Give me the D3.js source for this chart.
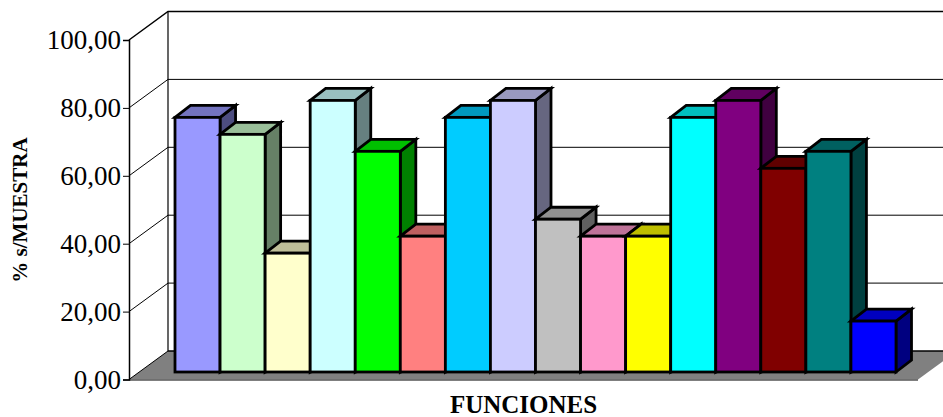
<!DOCTYPE html>
<html>
<head>
<meta charset="utf-8">
<script src="https://cdn.jsdelivr.net/npm/d3@7/dist/d3.min.js"></script>
<style>
html,body{margin:0;padding:0;background:#fff;overflow:hidden}
svg{display:block}
text{font-family:"Liberation Serif","Times New Roman",serif;fill:#000}
</style>
</head>
<body>
<svg id="chart" width="943" height="417"></svg>
<script>
// Share of the sample for each function
const values = [75, 70, 35, 80, 65, 40, 75, 80, 45, 40, 40, 75, 80, 60, 65, 15];
const barColors = ["#9999FF", "#CCFFCC", "#FFFFCC", "#CCFFFF", "#00FF00", "#FF8080", "#00CCFF", "#CCCCFF",
                   "#C0C0C0", "#FF99CC", "#FFFF00", "#00FFFF", "#800080", "#800000", "#008080", "#0000FF"];
const yTicks = [0, 20, 40, 60, 80, 100];
const yTitle = "% s/MUESTRA";
const xTitle = "FUNCIONES";

const svg = d3.select("#chart");

// Oblique projection: the front plane sits at the axis, the back wall is shifted up and right
const axisX = 129, roomDx = 39, roomDy = -28.5;
const frontRight = 918;
const y = d3.scaleLinear().domain([0, 100]).range([379.5, 40]);
const yBack = v => y(v) + roomDy;

// Bars stand on the floor a little behind the front edge
const barBase = -7.5, barDx = 15.5, barDy = -12;
const x = d3.scaleBand().domain(d3.range(values.length)).range([175, 896]).padding(0);
const yBar = v => y(v) + barBase;

const shade = (c, k) => { const r = d3.rgb(c); return d3.rgb(r.r * k, r.g * k, r.b * k).formatHex(); };
const poly = pts => pts.map(p => p.join(",")).join(" ");

// Floor
svg.append("polygon")
  .attr("points", poly([[axisX, y(0)], [axisX + roomDx, yBack(0)], [frontRight + roomDx, yBack(0)], [frontRight, y(0)]]))
  .attr("fill", "#808080");
svg.append("line")
  .attr("x1", axisX).attr("y1", y(0) + 0.5).attr("x2", frontRight).attr("y2", y(0) + 0.5)
  .attr("stroke", "#555").attr("stroke-width", 1.5);
svg.append("line")
  .attr("x1", axisX + roomDx).attr("y1", yBack(0)).attr("x2", 943).attr("y2", yBack(0))
  .attr("stroke", "#000").attr("stroke-width", 1.5);
svg.append("line")
  .attr("x1", axisX).attr("y1", y(0)).attr("x2", axisX + roomDx).attr("y2", yBack(0))
  .attr("stroke", "#000").attr("stroke-width", 1);

// Gridlines on the side wall and back wall
const grid = svg.append("g").attr("fill", "none").attr("stroke", "#000");
yTicks.filter(t => t > 0).forEach(t => {
  grid.append("polyline")
    .attr("points", poly([[axisX, y(t)], [axisX + roomDx, yBack(t)], [943, yBack(t)]]))
    .attr("stroke-width", t === 100 ? 1.5 : 1);
});
grid.append("line")
  .attr("x1", axisX + roomDx).attr("y1", yBack(100)).attr("x2", axisX + roomDx).attr("y2", yBack(0))
  .attr("stroke-width", 1.2);

// Left value axis
const axis = d3.axisLeft(y).tickValues(yTicks).tickSize(6).tickPadding(2)
  .tickFormat(d => d3.format(".2f")(d).replace(".", ","));
const axisG = svg.append("g").attr("transform", `translate(${axisX},0)`).call(axis);
axisG.select(".domain").attr("stroke", "#000").attr("stroke-width", 1.5);
axisG.selectAll(".tick line").attr("stroke", "#000").attr("stroke-width", 1);
axisG.selectAll(".tick text")
  .style("font-family", '"Liberation Serif","Times New Roman",serif')
  .style("font-size", "27px").attr("fill", "#000");

// 3D bars, painted left to right so each one overlaps its neighbour's side face
const bars = svg.append("g").attr("stroke", "#000").attr("stroke-width", 2.8).attr("stroke-linejoin", "miter");
values.forEach((v, i) => {
  const x0 = x(i), x1 = x0 + x.bandwidth(), top = yBar(v), base = yBar(0);
  const c = barColors[i];
  bars.append("polygon").attr("fill", shade(c, 0.5))
    .attr("points", poly([[x1, top], [x1 + barDx, top + barDy], [x1 + barDx, base + barDy], [x1, base]]));
  bars.append("polygon").attr("fill", shade(c, 0.75))
    .attr("points", poly([[x0, top], [x0 + barDx, top + barDy], [x1 + barDx, top + barDy], [x1, top]]));
  bars.append("rect").attr("fill", c)
    .attr("x", x0).attr("y", top).attr("width", x1 - x0).attr("height", base - top);
});

// Axis titles
svg.append("text")
  .attr("transform", "translate(27,210) rotate(-90)")
  .attr("text-anchor", "middle").attr("font-weight", "bold").attr("font-size", 21)
  .text(yTitle);
svg.append("text")
  .attr("x", 523.5).attr("y", 413)
  .attr("text-anchor", "middle").attr("font-weight", "bold").attr("font-size", 25)
  .text(xTitle);
</script>
</body>
</html>
